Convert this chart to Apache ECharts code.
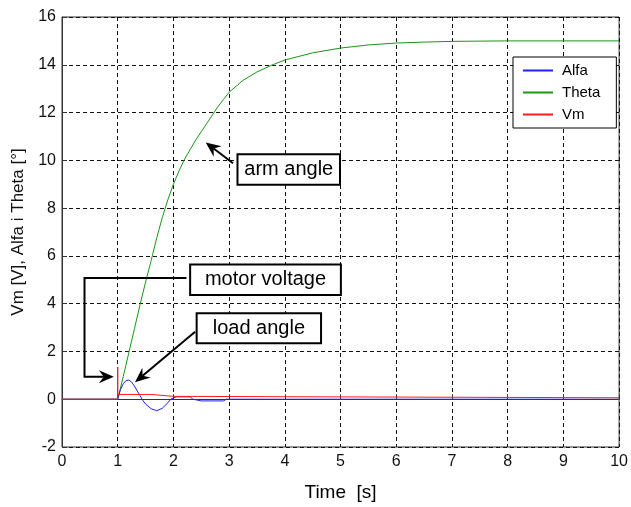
<!DOCTYPE html>
<html>
<head>
<meta charset="utf-8">
<script src="https://cdn.jsdelivr.net/npm/echarts@6/dist/echarts.min.js"></script>
<style>
html,body{margin:0;padding:0;background:#fff;}
#c{width:631px;height:507px;}
</style>
</head>
<body>
<div id="c"></div>
<script>
// ---- data ----
var seriesNames = ['Alfa', 'Theta', 'Vm'];
var xTicks = [0,1,2,3,4,5,6,7,8,9,10];
var yTicks = [-2,0,2,4,6,8,10,12,14,16];

var thetaT = [0,1,1.1,1.2,1.3,1.4,1.5,1.6,1.7,1.8,1.9,2.0,2.1,2.2,2.3,2.4,2.5,2.6,2.7,2.8,2.9,3.0,3.25,3.5,3.75,4.0,4.5,5.0,5.5,6.0,6.5,7.0,8.0,10];
var thetaV = [0,0,0.95,1.95,2.95,3.95,4.9,5.8,6.75,7.6,8.35,9.0,9.55,10.05,10.45,10.85,11.2,11.55,11.9,12.25,12.55,12.85,13.35,13.7,13.97,14.2,14.5,14.7,14.83,14.91,14.95,14.98,15.0,15.0];

var alfaT = [0,1,1.05,1.1,1.15,1.2,1.25,1.3,1.35,1.4,1.45,1.5,1.6,1.7,1.8,1.9,1.95,2.05,2.1,2.3,2.35,2.5,2.9,2.95,3.3,10];
var alfaV = [0,0,0.4,0.65,0.78,0.8,0.72,0.55,0.35,0.15,-0.05,-0.2,-0.4,-0.48,-0.38,-0.15,0,0.1,0.1,0.1,0,-0.07,-0.07,0,0,0];

var vmT = [0,1,1,1,1.6,1.6,2.0,2.0,10];
var vmV = [0,0,1.35,0.2,0.2,0.12,0.12,0.06,0.06];

// annotation texts
var annoTexts = ['arm angle', 'motor voltage', 'load angle'];

function pairs(t, v){ return t.map(function(x,i){ return [x, v[i]]; }); }

var FONT = "'Liberation Sans', Arial, sans-serif";
var colors = ['#1f1fff', '#1a961a', '#ff1a1a'];

var chart = echarts.init(document.getElementById('c'), null, {renderer:'canvas'});
var option = {
  animation: false,
  backgroundColor: '#fff',
  grid: {left: 62, top: 17, right: 6, bottom: 50, show: true, borderColor: '#333', borderWidth: 1, backgroundColor: 'transparent'},
  legend: {
    data: seriesNames,
    orient: 'vertical',
    left: 513, top: 57,
    backgroundColor: '#fff',
    borderColor: '#000', borderWidth: 1,
    padding: [6, 16, 6, 9],
    itemWidth: 30, itemHeight: 14, itemGap: 7,
    itemStyle: {opacity: 0},
    textStyle: {fontFamily: FONT, fontSize: 15, color: '#000', padding: [0, 0, 0, 4]}
  },
  xAxis: {
    type: 'value', min: 0, max: 10, interval: 1,
    name: 'Time  [s]', nameLocation: 'middle', nameGap: 36,
    nameTextStyle: {fontFamily: FONT, fontSize: 19, color: '#000'},
    axisLine: {show: true, lineStyle: {color: '#333', width: 1}},
    axisTick: {show: true, inside: true, length: 5, lineStyle: {color: '#333'}},
    axisLabel: {fontFamily: FONT, fontSize: 16, color: '#111', margin: 7,
      formatter: function(v){ return xTicks.indexOf(v) >= 0 ? String(v) : ''; }},
    splitLine: {show: true, lineStyle: {color: '#111', type: [4,3], width: 1}}
  },
  yAxis: {
    type: 'value', min: -2, max: 16, interval: 2,
    name: 'Vm [V], Alfa i Theta [°]', nameLocation: 'middle', nameGap: 33,
    nameTextStyle: {fontFamily: FONT, fontSize: 17, color: '#111'},
    axisLine: {show: true, lineStyle: {color: '#333', width: 1}},
    axisTick: {show: true, inside: true, length: 5, lineStyle: {color: '#333'}},
    axisLabel: {fontFamily: FONT, fontSize: 16, color: '#111', margin: 6,
      formatter: function(v){ return yTicks.indexOf(v) >= 0 ? String(v) : ''; }},
    splitLine: {show: true, lineStyle: {color: '#111', type: [4,3], width: 1}}
  },
  series: [
    {name: seriesNames[0], type: 'line', data: pairs(alfaT, alfaV), showSymbol: false, symbol: 'none',
     lineStyle: {color: colors[0], width: 1}, itemStyle: {color: colors[0]}, z: 3},
    {name: seriesNames[1], type: 'line', data: pairs(thetaT, thetaV), showSymbol: false, symbol: 'none',
     lineStyle: {color: colors[1], width: 1}, itemStyle: {color: colors[1]}, z: 2},
    {name: seriesNames[2], type: 'line', data: pairs(vmT, vmV), showSymbol: false, symbol: 'none',
     lineStyle: {color: colors[2], width: 1}, itemStyle: {color: colors[2]}, z: 4}
  ]
};
chart.setOption(option);

// ---- annotations, placed in data coordinates ----
var annoBoxes = [
  {text: annoTexts[0], tl: [3.15, 10.25], br: [4.99, 8.98]},
  {text: annoTexts[1], tl: [2.30, 5.64], br: [5.006, 4.36]},
  {text: annoTexts[2], tl: [2.417, 3.60], br: [4.65, 2.34]}
];
var annoArrows = [
  [[3.07, 9.88], [2.58, 10.75]],
  [[2.234, 5.07], [0.404, 5.07], [0.404, 0.94], [0.93, 0.94]],
  [[2.39, 2.82], [1.31, 0.71]]
];

function px(p){ return chart.convertToPixel({gridIndex: 0}, p); }
var g = [];
annoBoxes.forEach(function(b){
  var a = px(b.tl), c = px(b.br);
  g.push({type: 'rect', shape: {x: a[0], y: a[1], width: c[0]-a[0], height: c[1]-a[1]},
    style: {fill: '#fff', stroke: '#000', lineWidth: 2}, z: 100});
  g.push({type: 'text', x: (a[0]+c[0])/2, y: (a[1]+c[1])/2,
    style: {text: b.text, fill: '#000', font: '20px ' + FONT, align: 'center', verticalAlign: 'middle'}, z: 101});
});
annoArrows.forEach(function(pts){
  var p = pts.map(px);
  var n = p.length;
  var tip = p[n-1], prev = p[n-2];
  var dx = tip[0]-prev[0], dy = tip[1]-prev[1];
  var L = Math.sqrt(dx*dx+dy*dy); dx /= L; dy /= L;
  var hl = 15, hw = 6.5;
  var base = [tip[0]-dx*hl, tip[1]-dy*hl];
  var back = [tip[0]-dx*(hl-5), tip[1]-dy*(hl-5)];
  var shaft = p.slice(0, n-1).concat([back]);
  g.push({type: 'polyline', shape: {points: shaft}, style: {stroke: '#000', lineWidth: 2, fill: null}, z: 100});
  g.push({type: 'polygon', shape: {points: [tip, [base[0]-dy*hw, base[1]+dx*hw], back, [base[0]+dy*hw, base[1]-dx*hw]]},
    style: {fill: '#000'}, z: 100});
});
chart.setOption({graphic: g});
</script>
</body>
</html>
